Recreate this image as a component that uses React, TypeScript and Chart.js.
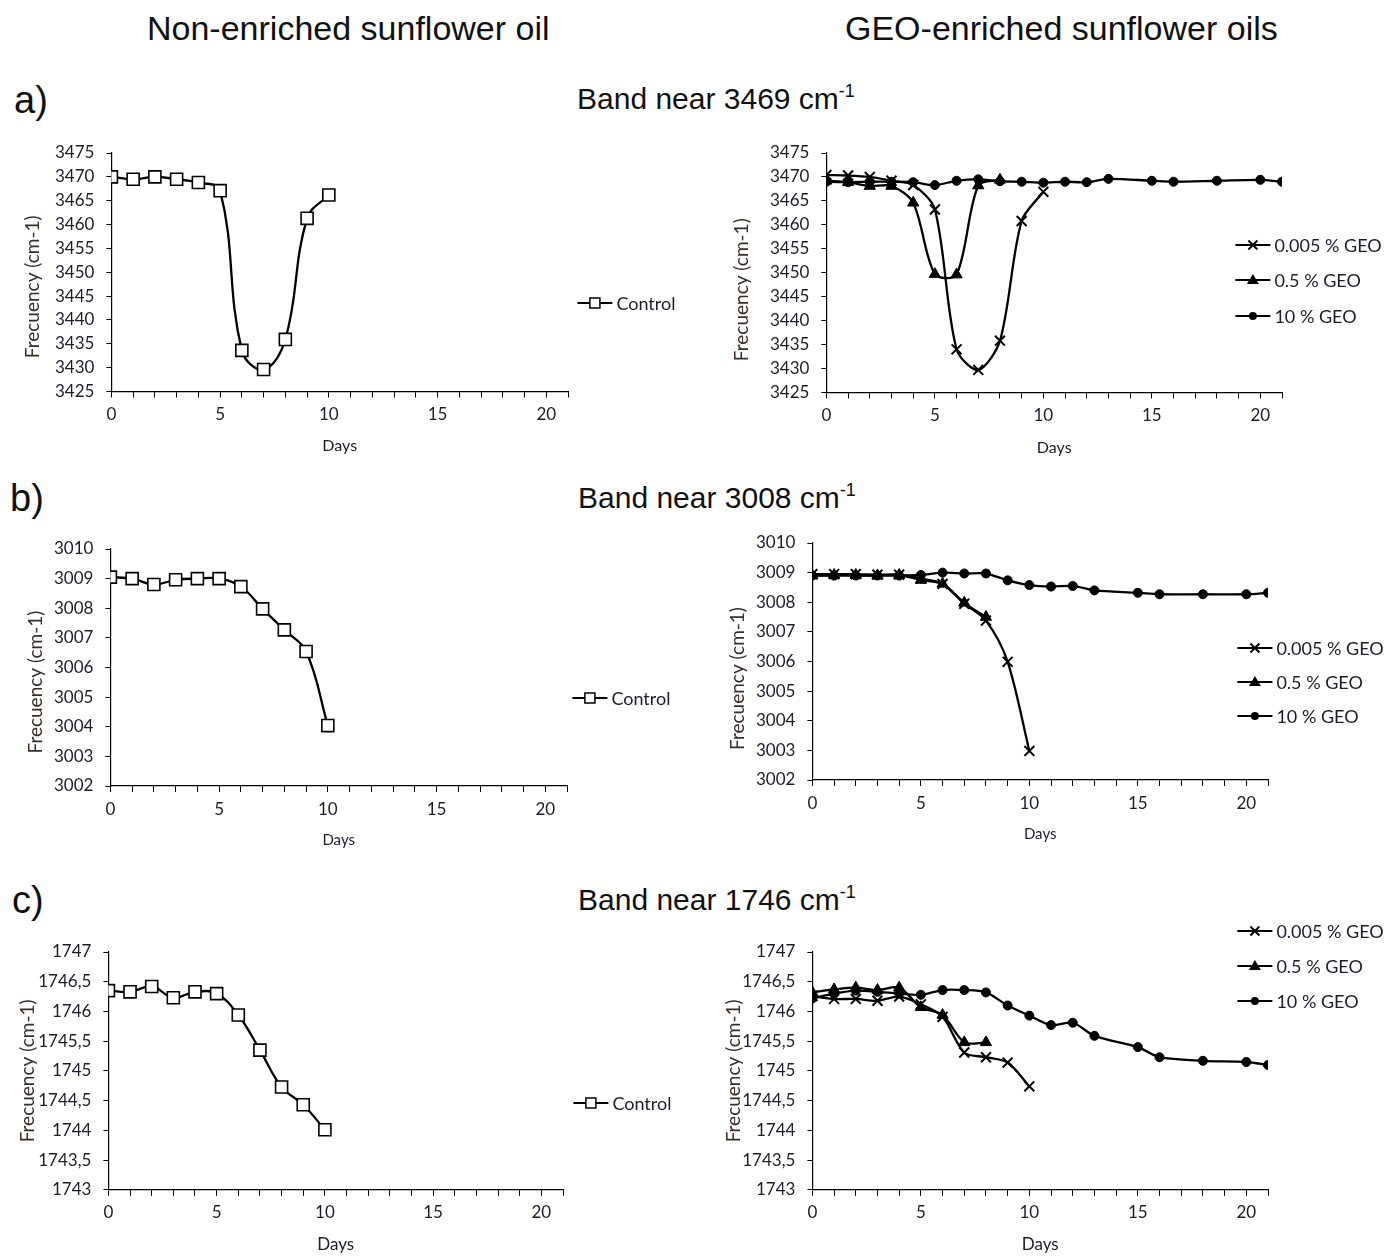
import React, { useEffect, useRef } from 'react';
import { Chart, registerables } from 'chart.js';
Chart.register(...registerables);

// ---------- data ----------
const daysControl = [0, 1, 2, 3, 4, 5, 6, 7, 8, 9, 10];
const days005 = [0, 1, 2, 3, 4, 5, 6, 7, 8, 9, 10];
const days05 = [0, 1, 2, 3, 4, 5, 6, 7, 8];
const days10 = [0, 1, 2, 3, 4, 5, 6, 7, 8, 9, 10, 11, 12, 13, 15, 16, 18, 20, 21];

const band3469Control = [3470, 3469.5, 3470, 3469.5, 3468.8, 3467.1, 3433.6, 3429.6, 3435.9, 3461.3, 3466.2];
const band3469Geo005 = [3470.4, 3470.3, 3470, 3469.2, 3468.3, 3463.2, 3434, 3429.7, 3435.8, 3460.8, 3466.9];
const band3469Geo05 = [3469.2, 3468.9, 3468.1, 3468.1, 3464.6, 3449.7, 3449.6, 3468.2, 3469.4];
const band3469Geo10 = [3469, 3468.9, 3469, 3469, 3468.9, 3468.3, 3469.2, 3469.5, 3469.1, 3469.0, 3468.8, 3469, 3468.9, 3469.6, 3469.2, 3469.0, 3469.2, 3469.4, 3469.0];

const band3008Control = [3009.05, 3009.0, 3008.8, 3008.96, 3009.0, 3009.0, 3008.73, 3007.98, 3007.27, 3006.54, 3004.04];
const band3008Geo005 = [3008.95, 3008.95, 3008.95, 3008.93, 3008.93, 3008.8, 3008.62, 3007.95, 3007.38, 3005.99, 3002.98];
const band3008Geo05 = [3008.9, 3008.92, 3008.92, 3008.9, 3008.92, 3008.75, 3008.62, 3007.98, 3007.5];
const band3008Geo10 = [3008.9, 3008.9, 3008.9, 3008.9, 3008.9, 3008.92, 3009.0, 3008.97, 3008.97, 3008.74, 3008.58, 3008.53, 3008.55, 3008.4, 3008.32, 3008.27, 3008.27, 3008.27, 3008.32];

const band1746Control = [1746.35, 1746.33, 1746.42, 1746.23, 1746.33, 1746.3, 1745.94, 1745.35, 1744.73, 1744.43, 1744.01];
const band1746Geo005 = [1746.26, 1746.21, 1746.21, 1746.18, 1746.25, 1746.12, 1745.91, 1745.31, 1745.23, 1745.14, 1744.74];
const band1746Geo05 = [1746.32, 1746.37, 1746.4, 1746.36, 1746.4, 1746.07, 1745.94, 1745.48, 1745.48];
const band1746Geo10 = [1746.22, 1746.3, 1746.35, 1746.33, 1746.3, 1746.28, 1746.36, 1746.36, 1746.32, 1746.1, 1745.93, 1745.77, 1745.81, 1745.59, 1745.4, 1745.23, 1745.17, 1745.15, 1745.1];

// axis ranges [min, max, step]
const axis3469 = [3425, 3475, 5];
const axis3008 = [3002, 3010, 1];
const axis1746 = [1743, 1747, 0.5];
const daysAxis = [0, 21, 1];
const labeledDayStep = 5;

const labelControl = 'Control';
const label005 = '0.005 % GEO';
const label05 = '0.5 % GEO';
const label10 = '10 % GEO';
const xTitle = 'Days';
const yTitle = 'Frecuency (cm-1)';

// ---------- styling ----------
type Marker = 'square' | 'cross' | 'triangle' | 'circle';

const markerStyles: Record<Marker, any> = {
  square: { pointStyle: 'rect', pointRadius: 8.5, pointBackgroundColor: '#ffffff', pointBorderColor: '#000', pointBorderWidth: 1.6 },
  cross: { pointStyle: 'crossRot', pointRadius: 7, pointBackgroundColor: '#000', pointBorderColor: '#000', pointBorderWidth: 2 },
  triangle: { pointStyle: 'triangle', pointRadius: 6.5, pointBackgroundColor: '#000', pointBorderColor: '#000', pointBorderWidth: 1 },
  circle: { pointStyle: 'circle', pointRadius: 4.5, pointBackgroundColor: '#000', pointBorderColor: '#000', pointBorderWidth: 1 },
};

const TEXT = '#1c1c2c';
const YTITLE = '#3a2e28';
const FONT = 'Lato, "Open Sans", sans-serif';

function drawMarker(ctx: CanvasRenderingContext2D, m: Marker, x: number, y: number) {
  ctx.save();
  ctx.strokeStyle = '#000';
  ctx.fillStyle = '#000';
  if (m === 'square') {
    ctx.lineWidth = 1.5;
    ctx.fillStyle = '#fff';
    ctx.fillRect(x - 5, y - 5, 10, 10);
    ctx.strokeRect(x - 5, y - 5, 10, 10);
  } else if (m === 'cross') {
    ctx.lineWidth = 2;
    ctx.beginPath();
    ctx.moveTo(x - 4.5, y - 4.5); ctx.lineTo(x + 4.5, y + 4.5);
    ctx.moveTo(x + 4.5, y - 4.5); ctx.lineTo(x - 4.5, y + 4.5);
    ctx.stroke();
  } else if (m === 'triangle') {
    ctx.beginPath();
    ctx.moveTo(x, y - 6); ctx.lineTo(x + 6, y + 4); ctx.lineTo(x - 6, y + 4);
    ctx.closePath(); ctx.fill();
  } else {
    ctx.beginPath(); ctx.arc(x, y, 4, 0, Math.PI * 2); ctx.fill();
  }
  ctx.restore();
}

const sideLegend = {
  id: 'sideLegend',
  afterDraw(chart: any, _a: any, opts: any) {
    if (!opts || !opts.items) return;
    const ctx: CanvasRenderingContext2D = chart.ctx;
    ctx.save();
    opts.items.forEach((it: any, i: number) => {
      const ds = chart.data.datasets[i];
      ctx.strokeStyle = '#000';
      ctx.lineWidth = 2;
      ctx.beginPath();
      ctx.moveTo(it.x, it.y);
      ctx.lineTo(it.x + 35, it.y);
      ctx.stroke();
      drawMarker(ctx, opts.markers[i], it.x + 17.5, it.y);
      ctx.fillStyle = TEXT;
      ctx.font = opts.font;
      ctx.textAlign = 'left';
      ctx.textBaseline = 'middle';
      ctx.fillText(ds.label, it.x + 39, it.y + 1);
    });
    ctx.restore();
  },
};

type SeriesDef = { label: string; days: number[]; values: number[]; marker: Marker };

type PanelDef = {
  series: SeriesDef[];
  yAxis: number[];
  comma?: boolean;
  axisX: number; plotTop: number; plotBottom: number; plotRight: number;
  yTitleX: number; xTitleY: number; padTop: number; canvasRight: number;
  xTitleSize: number; legendX: number; legendYs: number[]; tension: number;
  titleShift: number;
};

function Panel({ p }: { p: PanelDef }) {
  const ref = useRef<HTMLCanvasElement>(null);
  const ySize = 19;
  const lhY = ySize * 1.2;
  const lhX = p.xTitleSize * 1.2;
  const left = p.yTitleX - lhY / 2;
  const top = p.plotTop - p.padTop;
  const yw = p.axisX - left;
  const xh = p.xTitleY + lhX / 2 - p.plotBottom;
  const width = Math.round(p.canvasRight - left);
  const height = Math.round(p.plotBottom + xh - top);
  const padRight = p.canvasRight - p.plotRight;

  useEffect(() => {
    if (!ref.current) return;
    const datasets = p.series.map((s) => ({
      label: s.label,
      data: s.days.map((d, i) => ({ x: d, y: s.values[i] })),
      borderColor: '#000',
      borderWidth: 2.3,
      tension: p.tension,
      fill: false,
      ...markerStyles[s.marker],
    }));
    const fmt = (v: number) => {
      const r = Math.round(v * 10) / 10;
      return p.comma ? String(r).replace('.', ',') : String(r);
    };
    const chart = new Chart(ref.current, {
      type: 'line',
      data: { datasets },
      plugins: [sideLegend],
      options: {
        responsive: false,
        animation: false,
        layout: { padding: { top: p.padTop, right: padRight, bottom: 0, left: 0 } },
        plugins: {
          legend: { display: false },
          tooltip: { enabled: false },
          // @ts-ignore
          sideLegend: {
            items: p.legendYs.map((y) => ({ x: p.legendX - left, y: y - top })),
            markers: p.series.map((s) => s.marker),
            font: `18px ${FONT}`,
          },
        },
        scales: {
          x: {
            type: 'linear',
            min: daysAxis[0],
            max: daysAxis[1],
            ticks: {
              stepSize: daysAxis[2],
              autoSkip: false,
              maxRotation: 0,
              padding: 7,
              color: TEXT,
              font: { family: FONT, size: 17 },
              callback: (v: any) => (Number(v) % labeledDayStep === 0 ? String(v) : ''),
            },
            grid: { drawOnChartArea: false, drawTicks: true, tickLength: 6, color: '#000', lineWidth: 1 },
            border: { display: true, color: '#000', width: 1.2 },
            title: { display: true, text: xTitle, color: TEXT, font: { family: FONT, size: p.xTitleSize }, padding: 0 },
            afterFit: (s: any) => { s.height = xh; },
          },
          y: {
            type: 'linear',
            min: p.yAxis[0],
            max: p.yAxis[1],
            ticks: {
              stepSize: p.yAxis[2],
              autoSkip: false,
              padding: 12,
              color: TEXT,
              font: { family: FONT, size: 17 },
              callback: (v: any) => fmt(Number(v)),
            },
            grid: { drawOnChartArea: false, drawTicks: true, tickLength: 5, color: '#000', lineWidth: 1 },
            border: { display: true, color: '#000', width: 1.2 },
            title: {
              display: true,
              text: yTitle + ' '.repeat(p.titleShift),
              color: YTITLE,
              font: { family: FONT, size: ySize },
              padding: 0,
            },
            afterFit: (s: any) => { s.width = yw; },
          },
        },
      } as any,
    });
    return () => chart.destroy();
  }, []);

  return (
    <canvas
      ref={ref}
      width={width}
      height={height}
      style={{ position: 'absolute', left: left, top: top, width, height }}
    />
  );
}

const panels: PanelDef[] = [
  {
    series: [{ label: labelControl, days: daysControl, values: band3469Control, marker: 'square' }],
    yAxis: axis3469, axisX: 111, plotTop: 153, plotBottom: 391, plotRight: 568,
    yTitleX: 32, xTitleY: 445, padTop: 32, canvasRight: 700, xTitleSize: 16,
    legendX: 577, legendYs: [303], tension: 0.4, titleShift: 6,
  },
  {
    series: [
      { label: label005, days: days005, values: band3469Geo005, marker: 'cross' },
      { label: label05, days: days05, values: band3469Geo05, marker: 'triangle' },
      { label: label10, days: days10, values: band3469Geo10, marker: 'circle' },
    ],
    yAxis: axis3469, axisX: 826, plotTop: 153, plotBottom: 392, plotRight: 1282,
    yTitleX: 741, xTitleY: 447, padTop: 32, canvasRight: 1395, xTitleSize: 16,
    legendX: 1235, legendYs: [245, 280, 316], tension: 0.3, titleShift: 7,
  },
  {
    series: [{ label: labelControl, days: daysControl, values: band3008Control, marker: 'square' }],
    yAxis: axis3008, axisX: 110, plotTop: 549, plotBottom: 786, plotRight: 567,
    yTitleX: 35, xTitleY: 840, padTop: 32, canvasRight: 700, xTitleSize: 15,
    legendX: 572, legendYs: [698], tension: 0.4, titleShift: 6,
  },
  {
    series: [
      { label: label005, days: days005, values: band3008Geo005, marker: 'cross' },
      { label: label05, days: days05, values: band3008Geo05, marker: 'triangle' },
      { label: label10, days: days10, values: band3008Geo10, marker: 'circle' },
    ],
    yAxis: axis3008, axisX: 812, plotTop: 543, plotBottom: 780, plotRight: 1268,
    yTitleX: 737, xTitleY: 834, padTop: 32, canvasRight: 1395, xTitleSize: 15,
    legendX: 1237, legendYs: [648, 682, 716], tension: 0.3, titleShift: 7,
  },
  {
    series: [{ label: labelControl, days: daysControl, values: band1746Control, marker: 'square' }],
    yAxis: axis1746, comma: true, axisX: 108, plotTop: 952, plotBottom: 1190, plotRight: 563,
    yTitleX: 27, xTitleY: 1245, padTop: 32, canvasRight: 700, xTitleSize: 17,
    legendX: 573, legendYs: [1103], tension: 0.4, titleShift: 0,
  },
  {
    series: [
      { label: label005, days: days005, values: band1746Geo005, marker: 'cross' },
      { label: label05, days: days05, values: band1746Geo05, marker: 'triangle' },
      { label: label10, days: days10, values: band1746Geo10, marker: 'circle' },
    ],
    yAxis: axis1746, comma: true, axisX: 812, plotTop: 952, plotBottom: 1190, plotRight: 1268,
    yTitleX: 733, xTitleY: 1245, padTop: 40, canvasRight: 1395, xTitleSize: 17,
    legendX: 1237, legendYs: [931, 966, 1001], tension: 0.3, titleShift: 0,
  },
];

const HEAD = 'Liberation Sans, Arial, sans-serif';

function Txt({ x, y, size, children }: { x: number; y: number; size: number; children: any }) {
  return (
    <div style={{ position: 'absolute', left: x, top: y, fontSize: size, lineHeight: 1, fontFamily: HEAD, color: '#111', whiteSpace: 'nowrap' }}>
      {children}
    </div>
  );
}

function Band({ x, y, num }: { x: number; y: number; num: string }) {
  return (
    <Txt x={x} y={y} size={30}>
      Band near {num} cm<span style={{ fontSize: 18, position: 'relative', top: -12 }}>-1</span>
    </Txt>
  );
}

export default function App() {
  return (
    <div style={{ position: 'absolute', left: 0, top: 0, width: 1395, height: 1256, background: '#fff', overflow: 'hidden' }}>
      <Txt x={147} y={11} size={34}>Non-enriched sunflower oil</Txt>
      <Txt x={845} y={11} size={34}>GEO-enriched sunflower oils</Txt>
      <Txt x={14} y={81} size={38}>a)</Txt>
      <Txt x={10} y={479} size={38}>b)</Txt>
      <Txt x={12} y={881} size={38}>c)</Txt>
      <Band x={577} y={84} num="3469" />
      <Band x={578} y={483} num="3008" />
      <Band x={578} y={885} num="1746" />
      {panels.map((p, i) => (
        <Panel key={i} p={p} />
      ))}
    </div>
  );
}
